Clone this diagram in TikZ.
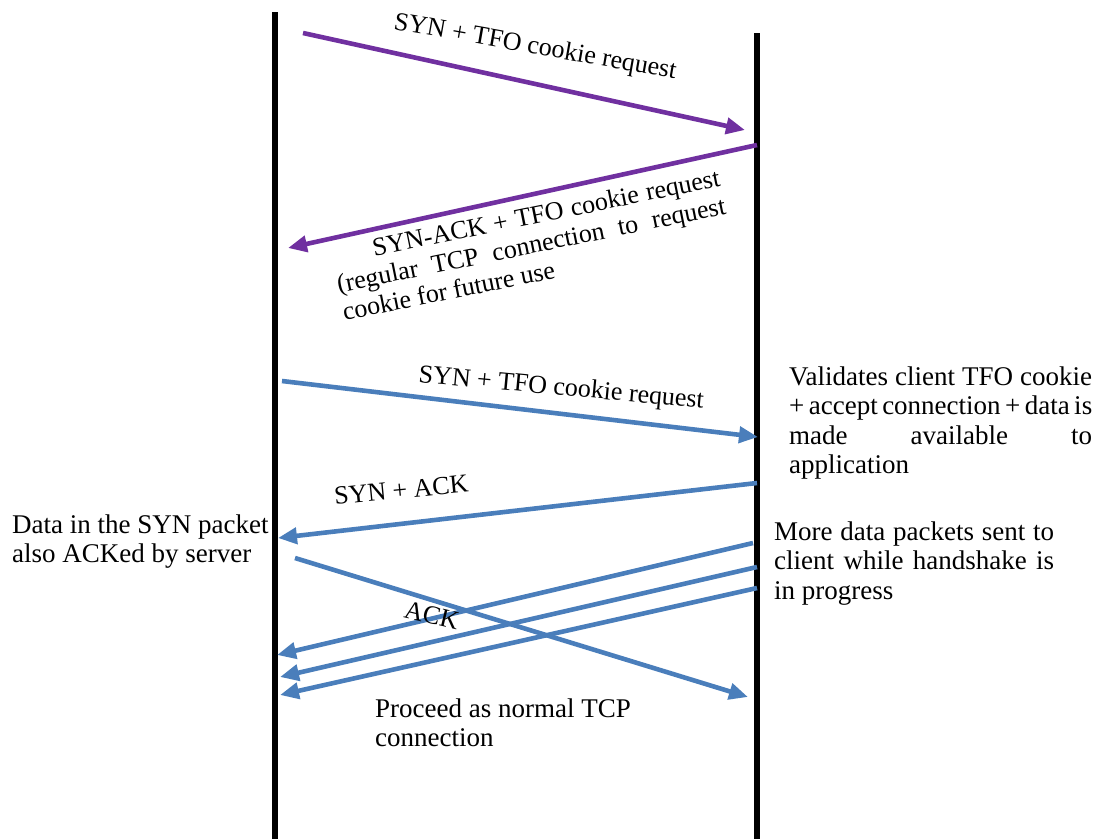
\documentclass[tikz,border=0pt]{standalone}
\usepackage{fontspec}
\setmainfont{Liberation Serif}
\usetikzlibrary{arrows.meta}
\definecolor{msgpurple}{RGB}{112,48,160}
\definecolor{msgblue}{RGB}{74,126,187}
\tikzset{
  lifeline/.style={line width=6pt, black},
  msg/.style={line width=4.6pt, -{Triangle[length=19pt,width=16pt]}},
  txt/.style={inner sep=0pt, anchor=base west, font=\fontsize{26}{28.5}\selectfont},
  note/.style={txt, font=\fontsize{27}{29.5}\selectfont},
}
\begin{document}
\begin{tikzpicture}[x=1pt,y=-1pt]
\useasboundingbox (0,0) rectangle (1103,839);

% lifelines: client (left) and server (right)
\coordinate (Ctop) at (275,12);  \coordinate (Cbot) at (275,839);
\coordinate (Stop) at (757,33);  \coordinate (Sbot) at (757,839);
\draw[lifeline] (Ctop) -- (Cbot);
\draw[lifeline] (Stop) -- (Sbot);

% first connection: cookie request
\coordinate (p1s) at (303,33);  \coordinate (p1e) at (745,130);
\coordinate (p2s) at (757,145); \coordinate (p2e) at (288,248);
\draw[msg, msgpurple] (p1s) -- (p1e);
\draw[msg, msgpurple] (p2s) -- (p2e);

% fast open connection
\coordinate (b1s) at (282,381); \coordinate (b1e) at (758,437);
\coordinate (b2s) at (757,483); \coordinate (b2e) at (278,538);
\coordinate (d1s) at (753,543); \coordinate (d1e) at (277,655);
\coordinate (d2s) at (757,567); \coordinate (d2e) at (280,677);
\coordinate (d3s) at (757,588); \coordinate (d3e) at (280,695);
\coordinate (aks) at (295,558); \coordinate (ake) at (748,697);
\draw[msg, msgblue] (b1s) -- (b1e);
\draw[msg, msgblue] (b2s) -- (b2e);
\draw[msg, msgblue] (aks) -- (ake);
\draw[msg, msgblue] (d1s) -- (d1e);
\draw[msg, msgblue] (d2s) -- (d2e);
\draw[msg, msgblue] (d3s) -- (d3e);

% message labels
\node[txt, rotate=-10] (l1) at (393,29) {SYN + TFO cookie request};
\node[txt, rotate=11.5] (l2) at (333,265) {\parbox[t]{396pt}{%
  \hspace*{42pt}\makebox[354pt][s]{SYN-ACK + TFO cookie request}\\
  \makebox[\linewidth][s]{(regular TCP connection to request}\\
  cookie for future use}};
\node[txt, rotate=-5.3] (l3) at (418,382) {SYN + TFO cookie request};
\node[txt, rotate=5.6] (l4) at (335,505) {SYN + ACK};
\node[txt, rotate=-13.5] (l5) at (403,617) {ACK};

% notes
\node[note] (n1) at (789,385) {\parbox[t]{303pt}{%
  \spaceskip=0.12em plus 1em minus 0.05em
  \makebox[\linewidth][s]{Validates client TFO cookie}\\
  \makebox[\linewidth][s]{+ accept connection + data is}\\
  \makebox[\linewidth][s]{made available to}\\
  application}};
\node[note] (n2) at (774,540) {\parbox[t]{280pt}{%
  \makebox[\linewidth][s]{More data packets sent to}\\
  \makebox[\linewidth][s]{client while handshake is}\\
  in progress}};
\node[note] (n3) at (12,533) {\parbox[t]{262pt}{%
  Data in the SYN packet\\
  also ACKed by server}};
\node[note] (n4) at (375,717) {\parbox[t]{300pt}{%
  Proceed as normal TCP\\
  connection}};
\end{tikzpicture}
\end{document}
